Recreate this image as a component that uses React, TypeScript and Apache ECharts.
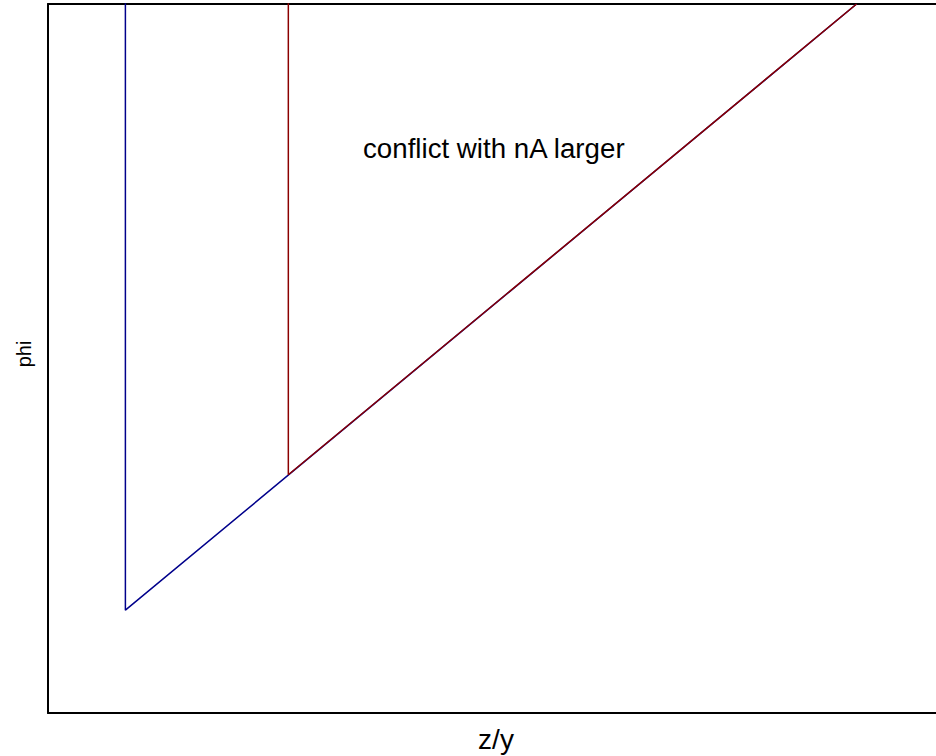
import React, { useEffect, useRef } from "react";
import * as echarts from "echarts";

const blueLine: [number, number][] = [
  [0.19, 1.05],
  [0.19, 0.145],
  [1.985, 1.0],
];
const redLine: [number, number][] = [
  [0.59, 1.05],
  [0.59, 0.336],
  [1.985, 1.0],
];
const xLabel = "z/y";
const yLabel = "phi";
const note = "conflict with nA larger";

const hidden = {
  axisTick: { show: false },
  axisLabel: { show: false },
  splitLine: { show: false },
};
const frameLine = { show: true, onZero: false, lineStyle: { color: "#000000", width: 2 } };

export default function App() {
  const ref = useRef<HTMLDivElement>(null);
  useEffect(() => {
    if (!ref.current) return;
    const chart = echarts.init(ref.current, null, { renderer: "svg" });
    chart.setOption({
      animation: false,
      backgroundColor: "#ffffff",
      grid: {
        left: 48,
        top: 4,
        width: 888,
        height: 709,
        show: false,
      },
      xAxis: [
        {
          type: "value",
          position: "bottom",
          min: 0,
          max: 2.18,
          axisLine: frameLine,
          ...hidden,
        },
        {
          type: "value",
          position: "top",
          min: 0,
          max: 2.18,
          axisLine: frameLine,
          ...hidden,
        },
      ],
      yAxis: {
        type: "value",
        position: "left",
        min: 0,
        max: 1,
        axisLine: frameLine,
        ...hidden,
      },
      series: [
        {
          type: "line",
          data: blueLine,
          showSymbol: false,
          clip: true,
          lineStyle: { color: "#00008B", width: 1.5 },
        },
        {
          type: "line",
          data: redLine,
          showSymbol: false,
          clip: true,
          lineStyle: { color: "#8B0000", width: 1.5 },
        },
      ],
      graphic: [
        {
          type: "text",
          x: 363,
          y: 148,
          style: {
            text: note,
            font: '27.7px "Liberation Sans", Arial, sans-serif',
            fill: "#000000",
            align: "left",
            verticalAlign: "middle",
          },
        },
        {
          type: "text",
          x: 496,
          y: 739,
          style: {
            text: xLabel,
            font: '28px "Liberation Sans", Arial, sans-serif',
            fill: "#000000",
            align: "center",
            verticalAlign: "middle",
          },
        },
        {
          type: "text",
          x: 24,
          y: 354,
          rotation: Math.PI / 2,
          style: {
            text: yLabel,
            font: '20px "Liberation Sans", Arial, sans-serif',
            fill: "#000000",
            align: "center",
            verticalAlign: "middle",
          },
        },
      ],
    });
    return () => chart.dispose();
  }, []);
  return (
    <div
      ref={ref}
      style={{ position: "fixed", left: 0, top: 0, width: 936, height: 756 }}
    />
  );
}
